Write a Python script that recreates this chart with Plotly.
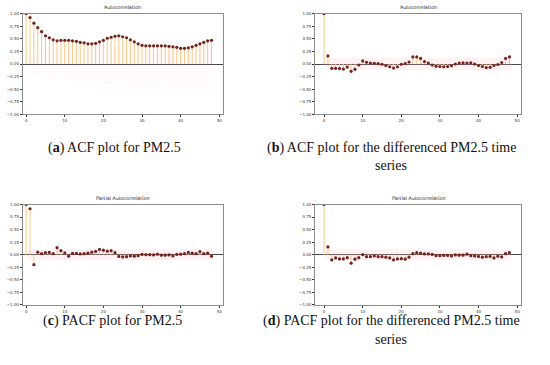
import plotly.graph_objects as go

# ---------------- data ----------------
lags = list(range(49))

acf_pm25 = [1.00, 0.92, 0.81, 0.72, 0.64, 0.56, 0.52, 0.48, 0.46, 0.47,
            0.47, 0.47, 0.46, 0.45, 0.43, 0.42, 0.40, 0.40, 0.41, 0.44,
            0.47, 0.51, 0.53, 0.55, 0.56, 0.54, 0.52, 0.48, 0.44, 0.40,
            0.37, 0.36, 0.36, 0.36, 0.36, 0.36, 0.36, 0.35, 0.34, 0.33,
            0.31, 0.31, 0.32, 0.34, 0.37, 0.40, 0.43, 0.46, 0.47]

acf_diff = [1.00, 0.16, -0.085, -0.085, -0.09, -0.10, -0.06, -0.145, -0.105, -0.02,
            0.06, 0.035, 0.02, 0.015, 0.01, -0.005, -0.03, -0.055, -0.08, -0.055,
            -0.005, 0.01, 0.04, 0.14, 0.14, 0.11, 0.05, 0.02, -0.02, -0.045,
            -0.05, -0.055, -0.05, -0.035, 0.0, 0.02, 0.025, 0.02, 0.025, 0.0,
            -0.03, -0.05, -0.07, -0.065, -0.03, -0.01, 0.03, 0.11, 0.14]

pacf_pm25 = [1.00, 0.915, -0.20, 0.05, 0.02, 0.04, 0.045, 0.02, 0.14, 0.08,
             0.035, -0.03, 0.025, 0.025, 0.015, 0.02, 0.03, 0.05, 0.065, 0.105,
             0.09, 0.07, 0.08, 0.04, -0.035, -0.045, -0.04, -0.025, -0.03, -0.02,
             0.005, 0.0, 0.0, -0.005, 0.01, -0.01, -0.01, -0.005, -0.025, 0.005,
             0.01, 0.02, 0.045, 0.03, 0.02, 0.06, 0.02, 0.03, -0.03]

pacf_diff = [1.00, 0.155, -0.105, -0.065, -0.085, -0.085, -0.06, -0.17, -0.09, -0.06,
             0.0, -0.04, -0.04, -0.025, -0.04, -0.04, -0.05, -0.065, -0.105, -0.085,
             -0.08, -0.09, -0.05, 0.02, 0.04, 0.03, 0.015, 0.015, 0.005, -0.02,
             -0.02, -0.015, -0.015, -0.025, -0.005, -0.01, -0.01, 0.01, -0.02, -0.025,
             -0.035, -0.05, -0.04, -0.035, -0.065, -0.03, -0.045, 0.02, 0.04]

# confidence band half-widths (estimated)
band_acf_pm25 = [0, 0.11, 0.18, 0.22, 0.247, 0.266, 0.28, 0.292, 0.301, 0.309,
                 0.318, 0.326, 0.334, 0.342, 0.349, 0.355, 0.361, 0.367, 0.372, 0.377,
                 0.383, 0.39, 0.398, 0.407, 0.416, 0.425, 0.433, 0.44, 0.447, 0.452,
                 0.456, 0.46, 0.463, 0.467, 0.47, 0.473, 0.477, 0.48, 0.483, 0.486,
                 0.489, 0.491, 0.493, 0.496, 0.499, 0.502, 0.506, 0.51, 0.515]
band_acf_diff = [0, 0.11, 0.113, 0.114, 0.114, 0.115, 0.116, 0.116, 0.118, 0.119,
                 0.119, 0.119, 0.119, 0.119, 0.119, 0.119, 0.119, 0.120, 0.120, 0.121,
                 0.121, 0.121, 0.121, 0.122, 0.124, 0.126, 0.127, 0.127, 0.127, 0.127,
                 0.128, 0.128, 0.128, 0.128, 0.128, 0.128, 0.128, 0.128, 0.128, 0.128,
                 0.128, 0.129, 0.129, 0.130, 0.130, 0.130, 0.130, 0.130, 0.131]
pacf_band_half = 0.11

y_ticks = [-1.0, -0.75, -0.5, -0.25, 0.0, 0.25, 0.5, 0.75, 1.0]
x_ticks = [0, 10, 20, 30, 40, 50]

titles = ["Autocorrelation", "Autocorrelation",
          "Partial Autocorrelation", "Partial Autocorrelation"]
captions = [
    ["(<b>a</b>) ACF plot for PM2.5"],
    ["(<b>b</b>) ACF plot for the differenced PM2.5 time", "series"],
    ["(<b>c</b>) PACF plot for PM2.5"],
    ["(<b>d</b>) PACF plot for the differenced PM2.5 time", "series"],
]

# ---------------- style / layout ----------------
W, H = 550, 365
STEM = "rgb(245,202,138)"
MARK = "rgb(118,34,26)"
SPINE = "rgb(140,140,140)"
BANDS = ["rgba(255,185,200,0.07)", "rgba(255,185,200,0.20)",
         "rgba(255,185,200,0.20)", "rgba(255,185,200,0.20)"]

panels = [
    dict(vals=acf_pm25, band=band_acf_pm25, px=[22.7, 222.7], py=[10.7, 113.0], xr=[-0.9, 50.9]),
    dict(vals=acf_diff, band=band_acf_diff, px=[315.0, 521.0], py=[10.7, 113.0], xr=[-2.35, 51.0]),
    dict(vals=pacf_pm25, band=[0] + [pacf_band_half] * (len(lags) - 1),
         px=[22.7, 222.7], py=[204.3, 306.0], xr=[-0.9, 50.9]),
    dict(vals=pacf_diff, band=[0] + [pacf_band_half] * (len(lags) - 1),
         px=[315.0, 521.0], py=[204.3, 306.0], xr=[-2.35, 51.0]),
]

caption_pos = [
    dict(x=114, ys=[147]),
    dict(x=391, ys=[147, 165]),
    dict(x=112, ys=[322]),
    dict(x=391, ys=[322, 341]),
]

fig = go.Figure()
annotations = []
layout_axes = {}

for i, p in enumerate(panels):
    n = i + 1
    xa = "x" if n == 1 else f"x{n}"
    ya = "y" if n == 1 else f"y{n}"
    xkey = "xaxis" if n == 1 else f"xaxis{n}"
    ykey = "yaxis" if n == 1 else f"yaxis{n}"

    # confidence band
    bx = [lags[0] - 0.5] + lags[1:-1] + [lags[-1] + 0.5]
    up = list(p["band"])
    lo = [-b for b in up]
    fig.add_trace(go.Scatter(x=bx + bx[::-1], y=up + lo[::-1], fill="toself",
                             fillcolor=BANDS[i], line=dict(width=0), mode="lines",
                             hoverinfo="skip", showlegend=False, xaxis=xa, yaxis=ya))
    # stems
    sx, sy = [], []
    for k, v in zip(lags, p["vals"]):
        sx += [k, k, None]
        sy += [0, v, None]
    fig.add_trace(go.Scatter(x=sx, y=sy, mode="lines", line=dict(color=STEM, width=1),
                             hoverinfo="skip", showlegend=False, xaxis=xa, yaxis=ya))
    # markers
    fig.add_trace(go.Scatter(x=lags, y=p["vals"], mode="markers",
                             marker=dict(color=MARK, size=3.2, line=dict(width=0)),
                             showlegend=False, xaxis=xa, yaxis=ya))

    x0, x1 = p["px"]
    y0, y1 = p["py"]
    layout_axes[xkey] = dict(domain=[x0 / W, x1 / W], range=p["xr"], anchor=ya,
                             tickvals=x_ticks, ticks="outside", ticklen=2, tickwidth=0.6,
                             tickcolor="#333", tickfont=dict(size=4, color="#333", family="DejaVu Sans"),
                             showline=True, mirror=True, linecolor=SPINE, linewidth=0.8,
                             showgrid=False, zeroline=False, fixedrange=True)
    layout_axes[ykey] = dict(domain=[1 - y1 / H, 1 - y0 / H], range=[-1.0, 1.0], anchor=xa,
                             tickvals=y_ticks, tickformat=".2f", ticks="outside", ticklen=2,
                             tickwidth=0.6, tickcolor="#333",
                             tickfont=dict(size=4, color="#333", family="DejaVu Sans"),
                             showline=True, mirror=True, linecolor=SPINE, linewidth=0.8,
                             showgrid=False, zeroline=True, zerolinecolor="rgb(70,70,70)",
                             zerolinewidth=0.9, fixedrange=True)

    annotations.append(dict(text=titles[i], x=(x0 + x1) / 2 / W, y=1 - (y0 - 1.2) / H,
                            xref="paper", yref="paper", xanchor="center", yanchor="bottom",
                            showarrow=False, font=dict(size=4.8, color="#222", family="DejaVu Sans")))
    cp = caption_pos[i]
    for line, yy in zip(captions[i], cp["ys"]):
        annotations.append(dict(text=line, x=cp["x"] / W, y=1 - yy / H, xref="paper", yref="paper",
                                xanchor="center", yanchor="middle", showarrow=False,
                                font=dict(size=14, color="#111", family="Liberation Serif")))

fig.update_layout(width=W, height=H, autosize=False, margin=dict(l=0, r=0, t=0, b=0),
                  paper_bgcolor="white", plot_bgcolor="white",
                  annotations=annotations, **layout_axes)

fig.write_html("out.html", config={"displayModeBar": False},
               post_script="document.body.style.margin='0';")
